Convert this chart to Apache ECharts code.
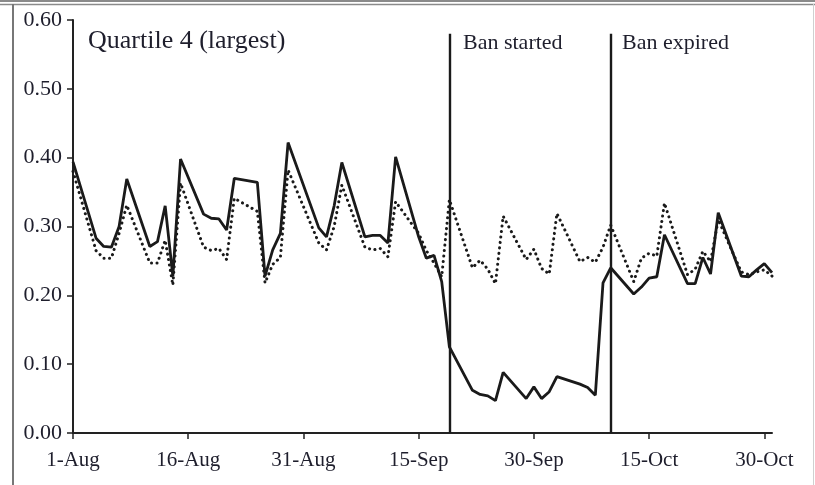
<!DOCTYPE html>
<html>
<head>
<meta charset="utf-8">
<title>Quartile 4 (largest)</title>
<script src="https://cdn.jsdelivr.net/npm/echarts@6/dist/echarts.min.js"></script>
<style>
  html, body { margin: 0; padding: 0; background: #fff; }
  #chart { width: 815px; height: 485px; }
</style>
</head>
<body>
<div id="chart"></div>
<script>
// trading days, Aug-Oct 2008 (MM-DD)
const dates = [
  '08-01', '08-04', '08-05', '08-06', '08-07', '08-08', '08-11', '08-12', '08-13', '08-14', '08-15',
  '08-18', '08-19', '08-20', '08-21', '08-22', '08-25', '08-26', '08-27', '08-28', '08-29',
  '09-02', '09-03', '09-04', '09-05', '09-08', '09-09', '09-10', '09-11', '09-12',
  '09-15', '09-16', '09-17', '09-18', '09-19', '09-22', '09-23', '09-24', '09-25', '09-26',
  '09-29', '09-30', '10-01', '10-02', '10-03', '10-06', '10-07', '10-08', '10-09', '10-10',
  '10-13', '10-14', '10-15', '10-16', '10-17', '10-20', '10-21', '10-22', '10-23', '10-24',
  '10-27', '10-28', '10-29', '10-30', '10-31'
]

const solidVals = [
  0.394, 0.283, 0.271, 0.270, 0.300, 0.369, 0.271, 0.278, 0.330, 0.228, 0.398,
  0.318, 0.312, 0.311, 0.295, 0.370, 0.364, 0.228, 0.266, 0.290, 0.422,
  0.298, 0.285, 0.330, 0.393, 0.285, 0.287, 0.287, 0.276, 0.401,
  0.285, 0.254, 0.258, 0.220, 0.125, 0.062, 0.056, 0.054, 0.047, 0.088,
  0.050, 0.067, 0.050, 0.060, 0.082, 0.071, 0.066, 0.055, 0.218, 0.240,
  0.202, 0.212, 0.225, 0.227, 0.288, 0.217, 0.217, 0.255, 0.231, 0.320,
  0.228, 0.227, 0.237, 0.246, 0.233
]

const dottedVals = [
  0.380, 0.265, 0.254, 0.254, 0.290, 0.331, 0.247, 0.247, 0.280, 0.215, 0.363,
  0.270, 0.265, 0.268, 0.252, 0.341, 0.322, 0.218, 0.245, 0.255, 0.382,
  0.276, 0.266, 0.300, 0.360, 0.270, 0.266, 0.268, 0.256, 0.336,
  0.290, 0.265, 0.247, 0.227, 0.339, 0.240, 0.251, 0.238, 0.217, 0.315,
  0.252, 0.267, 0.239, 0.231, 0.319, 0.249, 0.255, 0.248, 0.270, 0.302,
  0.220, 0.254, 0.261, 0.257, 0.334, 0.230, 0.238, 0.264, 0.249, 0.310,
  0.234, 0.230, 0.234, 0.237, 0.228
]

const tickLabels = ['1-Aug', '16-Aug', '31-Aug', '15-Sep', '30-Sep', '15-Oct', '30-Oct']
const events = [
  { date: '09-19', label: 'Ban started' },
  { date: '10-10', label: 'Ban expired' }
]

const FONT = "'Liberation Serif', 'Times New Roman', serif"
const INK = '#1e1e2c'

// days since 1-Aug
function dayOf(md) {
  const [m, d] = md.split('-').map(Number)
  return (Date.UTC(2008, m - 1, d) - Date.UTC(2008, 7, 1)) / 86400000
}

const dayTicks = tickLabels.map((_, i) => i * 15)
const solidData = dates.map((d, i) => [dayOf(d), solidVals[i]])
const dottedData = dates.map((d, i) => [dayOf(d), dottedVals[i]])

const chart = echarts.init(document.getElementById('chart'))

chart.setOption({
  animation: false,
  backgroundColor: '#fff',
  grid: { left: 73, right: 43, top: 20, bottom: 52 },
  xAxis: {
    type: 'value',
    min: 0,
    max: 91,
    interval: 15,
    axisLine: { lineStyle: { color: '#222', width: 2 } },
    axisTick: { show: true, length: 6, lineStyle: { color: '#222', width: 1.5 }, customValues: dayTicks },
    axisLabel: {
      customValues: dayTicks,
      margin: 17,
      color: INK,
      fontFamily: FONT,
      fontSize: 21,
      formatter: v => tickLabels[Math.round(v / 15)] || ''
    },
    splitLine: { show: false }
  },
  yAxis: {
    type: 'value',
    min: 0,
    max: 0.6,
    interval: 0.1,
    axisLine: { show: true, lineStyle: { color: '#222', width: 2 } },
    axisTick: { show: true, length: 6, lineStyle: { color: '#222', width: 1.5 } },
    axisLabel: {
      margin: 11,
      color: INK,
      fontFamily: FONT,
      fontSize: 22,
      formatter: v => v.toFixed(2)
    },
    splitLine: { show: false }
  },
  series: [
    {
      name: 'dotted',
      type: 'line',
      data: dottedData,
      showSymbol: false,
      lineStyle: { color: '#1a1a1a', width: 3, type: [0.1, 5.4], cap: 'round' }
    },
    {
      name: 'solid',
      type: 'line',
      data: solidData,
      showSymbol: false,
      lineStyle: { color: '#1a1a1a', width: 2.8 },
      markLine: {
        silent: true,
        symbol: 'none',
        label: { show: false },
        lineStyle: { color: '#1a1a1a', width: 2.4, type: 'solid' },
        data: events.map(e => [{ coord: [dayOf(e.date), 0] }, { coord: [dayOf(e.date), 0.58] }])
      }
    }
  ],
  graphic: [
    { type: 'line', shape: { x1: 0, y1: 1, x2: 815, y2: 1 }, style: { stroke: '#8a8a8a', lineWidth: 2 } },
    { type: 'line', shape: { x1: 0, y1: 4.5, x2: 815, y2: 4.5 }, style: { stroke: '#8a8a8a', lineWidth: 1.5 } },
    { type: 'line', shape: { x1: 13, y1: 4, x2: 13, y2: 485 }, style: { stroke: '#777', lineWidth: 2 } },
    { type: 'line', shape: { x1: 813.5, y1: 4, x2: 813.5, y2: 485 }, style: { stroke: '#d0d0d0', lineWidth: 1 } },
    {
      type: 'text', left: 88, top: 28,
      style: { text: 'Quartile 4 (largest)', font: '26px ' + FONT, fill: INK }
    },
    {
      type: 'text', left: 463, top: 32,
      style: { text: events[0].label, font: '22px ' + FONT, fill: INK }
    },
    {
      type: 'text', left: 622, top: 32,
      style: { text: events[1].label, font: '22px ' + FONT, fill: INK }
    }
  ]
})

window.addEventListener('resize', () => chart.resize())
</script>
</body>
</html>
